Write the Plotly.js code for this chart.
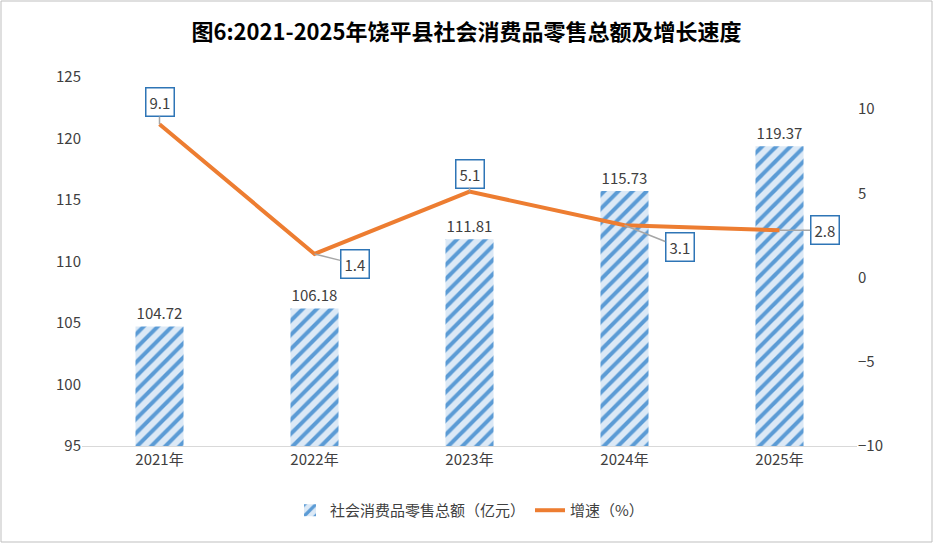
<!DOCTYPE html>
<html><head><meta charset="utf-8">
<script src="https://cdn.plot.ly/plotly-3.0.1.min.js"></script>
<style>body{margin:0}#c{width:933px;height:543px}</style></head>
<body><div id="c"></div>
<script>
const years = ['2021年','2022年','2023年','2024年','2025年'];
const sales = [104.72,106.18,111.81,115.73,119.37];
const growth = [9.1,1.4,5.1,3.1,2.8];
const labelOffsets = [[0,-22],[40,10],[0,-18],[55,22],[45,0]];
const font = {family:'"Noto Sans CJK SC", sans-serif', color:'#404040', size:14};
const traces = [
 {type:'bar', x:years, y:sales, name:'社会消费品零售总额（亿元）', width:0.31,
  marker:{color:'#dce9f6', pattern:{shape:'/', fgcolor:'#5b9bd5', bgcolor:'#dce9f6', size:10, solidity:0.4}},
  text:sales.map(v=>v.toFixed(2)), textposition:'outside', textfont:{size:15,color:'#404040'}, cliponaxis:false},
 {type:'scatter', mode:'lines', x:years, y:growth, yaxis:'y2', name:'增速（%）',
  line:{color:'#ed7d31', width:4}}
];
const annotations = growth.map((g,i)=>({x:years[i], y:g, xref:'x', yref:'y2', text:String(g),
  ax:labelOffsets[i][0], ay:labelOffsets[i][1], showarrow:true, arrowhead:0, arrowcolor:'#a6a6a6', arrowwidth:1.5,
  bordercolor:'#2e75b6', borderwidth:1.5, bgcolor:'#fff', borderpad:3, font:{size:15,color:'#404040'}}));
const L=82, R=76, T=77, B=97, W=933-L-R, H=543-T-B;
const layout = {
 width:933, height:543, margin:{l:L,r:R,t:T,b:B}, paper_bgcolor:'#fff', plot_bgcolor:'#fff',
 font:font, showlegend:true,
 title:{text:'<b>图6:2021-2025年饶平县社会消费品零售总额及增长速度</b>', x:0.5, y:0.955, font:{size:22,color:'#000',family:'"Noto Sans CJK SC", serif'}},
 xaxis:{showline:true, linecolor:'#d9d9d9', linewidth:1, tickfont:{size:15}},
 yaxis:{range:[95,125], dtick:5, showgrid:false, zeroline:false, tickfont:{size:15}, ticklen:0},
 yaxis2:{overlaying:'y', side:'right', range:[-10,11.9], tickvals:[-10,-5,0,5,10], showgrid:false, zeroline:false, tickfont:{size:15}},
 legend:{orientation:'h', x:0.5, xanchor:'center', y:-0.13, yanchor:'top', font:{size:15}},
 annotations:annotations, bargap:0.6,
 shapes:[{type:'rect', xref:'paper', yref:'paper', x0:-(L-1)/W, x1:1+(R-1)/W, y0:-(B-1)/H, y1:1+(T-1)/H, line:{color:'#bfbfbf', width:1}}]
};
Plotly.newPlot('c', traces, layout, {displayModeBar:false});
</script></body></html>
